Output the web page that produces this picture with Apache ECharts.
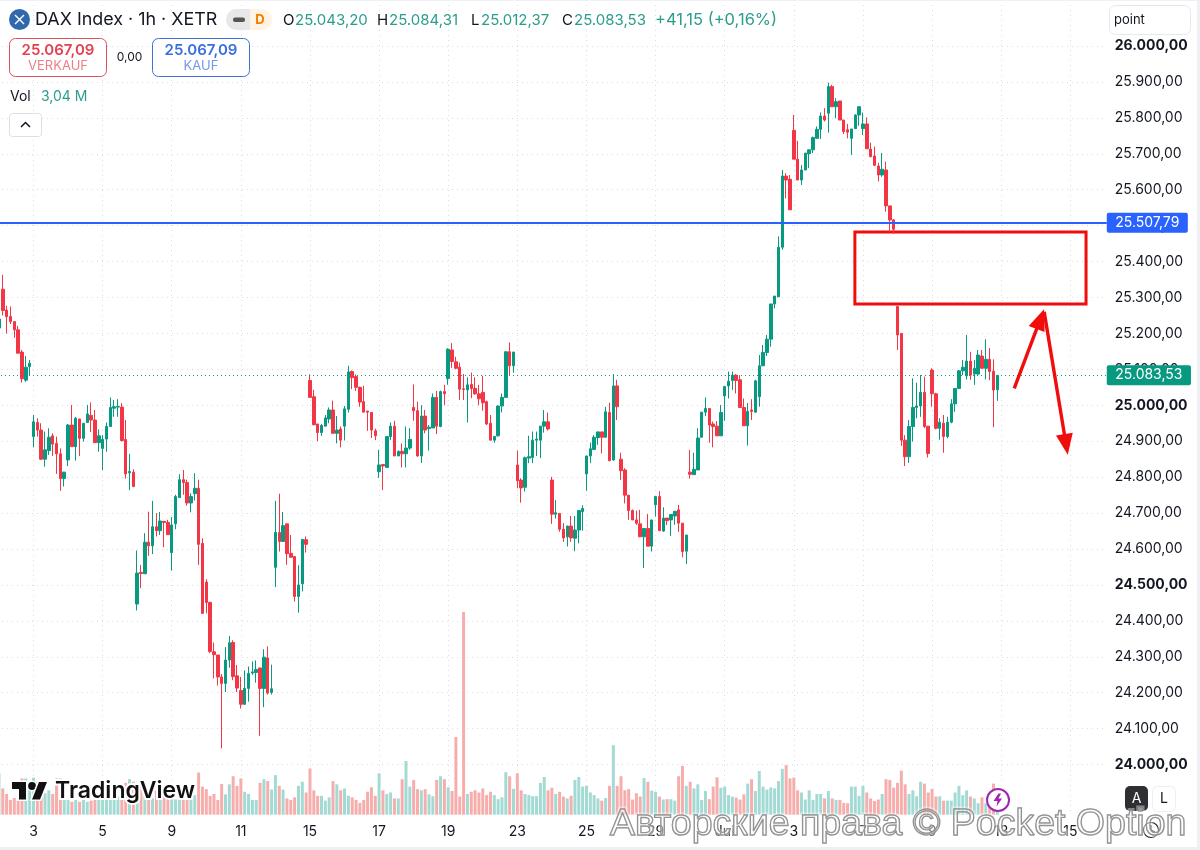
<!DOCTYPE html>
<html>
<head>
<meta charset="utf-8">
<title>DAX Index 1h</title>
<style>html,body{margin:0;padding:0;background:#fff}#chart{width:1200px;height:850px}</style>
<script src="https://cdn.jsdelivr.net/npm/echarts@6/dist/echarts.min.js"></script>
</head>
<body>
<div id="chart"></div>
<script>
// Hourly DAX candles, one row per trading day after the first partial session.
const opens = [25215,25323,25265,25247,25233,25210,25148,25070,25108,
24913,24952,24931,24850,24874,24915,24894,24865,24796,
24848,24945,24885,24962,24908,24952,24972,24959,24896,
24880,24906,24941,24992,24995,24995,24905,24812,24814,
24447,24535,24531,24619,24609,24662,24651,24677,24674,
24590,24670,24743,24793,24785,24728,24754,24769,24616,
24508,24451,24314,24305,24244,24226,24291,24340,24247,
24206,24168,24212,24255,24256,24269,24212,24297,24201,
24549,24646,24621,24670,24588,24579,24468,24503,24626,
25069,25024,24948,24924,24942,24962,24987,24922,24934,
24942,24989,25094,25080,25050,25010,24984,24980,24929,
24815,24835,24827,24913,24942,24859,24872,24865,24881,
24994,24985,24859,24970,24935,24937,25022,24941,25038,
25074,25154,25121,25106,25046,25043,25058,25047,25032,
25036,25010,24950,24903,24915,24998,25022,25149,25110,
24834,24792,24772,24853,24855,24903,24903,24942,24954,
24792,24697,24699,24655,24634,24664,24630,24653,24704,
24809,24859,24877,24910,24926,24911,24980,24848,25054,
24850,24820,24750,24707,24681,24670,24634,24657,24608,
24723,24746,24650,24686,24681,24692,24709,24672,24594,
24814,24807,24820,24911,24981,24991,24948,24942,24915,
25026,25054,25069,25084,25071,24994,24943,24987,24981,
25024,25110,25147,25184,25282,25302,25440,25638,25629,
25765,25685,25627,25655,25700,25711,25743,25768,25805,
25813,25887,25831,25847,25794,25767,25743,25770,25808,
25770,25783,25713,25694,25666,25641,25655,25555,25516,
25275,25200,24903,24857,24941,24994,24998,25036,24942,
25098,25032,24936,24950,24913,24953,25004,25047,25096,
25082,25123,25087,25087,25137,25103,25128,25095,25043.20];

const closes = [25240,25264,25247,25233,25210,25145,25074,25106,25117,
24954,24931,24850,24876,24911,24892,24865,24796,24814,
24945,24885,24964,24908,24950,24976,24959,24896,24915,
24905,24941,24994,24996,24997,24902,24809,24816,24774,
24533,24532,24619,24609,24662,24651,24678,24674,24640,
24667,24746,24793,24785,24728,24746,24769,24613,24421,
24451,24315,24306,24244,24226,24291,24339,24245,24213,
24168,24212,24254,24258,24265,24212,24299,24199,24211,
24646,24621,24665,24587,24577,24468,24500,24627,24613,
25022,24946,24924,24944,24965,24987,24922,24931,24903,
24990,25093,25077,25050,25009,24981,24981,24931,24915,
24834,24831,24913,24942,24859,24872,24865,24881,24905,
24985,24859,24970,24931,24939,25022,24942,25038,25032,
25156,25122,25103,25045,25044,25057,25047,25032,25018,
25007,24948,24903,24913,24998,25022,25149,25110,25148,
24790,24770,24854,24857,24903,24906,24942,24954,24934,
24697,24701,24655,24631,24664,24631,24653,24707,24713,
24859,24879,24911,24926,24911,24982,24846,25054,24996,
24818,24750,24707,24681,24672,24634,24657,24608,24681,
24746,24651,24686,24679,24696,24705,24672,24593,24639,
24808,24822,24909,24981,24991,24945,24941,24915,24980,
25052,25067,25084,25069,24994,24943,24983,24983,25068,
25110,25147,25184,25282,25304,25440,25638,25627,25544,
25685,25627,25655,25702,25711,25745,25768,25805,25794,
25887,25831,25845,25794,25762,25760,25769,25808,25831,
25783,25714,25692,25668,25641,25657,25555,25516,25490,
25196,24903,24857,24941,24994,24998,25036,24941,24866,
25032,24936,24953,24913,24953,25004,25047,25096,25106,
25123,25084,25103,25140,25103,25128,25094,25042.38,25083.53];

const lows = [25200,25250,25200,25226,25188,25145,25063,25065,25083,
24883,24913,24848,24829,24862,24859,24809,24762,24774,
24831,24885,24846,24859,24899,24952,24926,24896,24871,
24820,24871,24941,24968,24968,24899,24796,24764,24772,
24429,24491,24531,24581,24586,24635,24639,24605,24640,
24540,24655,24743,24751,24721,24702,24735,24556,24420,
24421,24310,24240,24220,24045,24202,24270,24235,24202,
24156,24166,24175,24250,24228,24080,24160,24195,24195,
24494,24593,24621,24556,24577,24454,24423,24482,24590,
25021,24944,24900,24915,24942,24950,24922,24894,24883,
24902,24980,25045,25040,24996,24981,24929,24909,24903,
24798,24764,24827,24903,24859,24859,24827,24827,24876,
24957,24857,24840,24922,24874,24937,24920,24939,25000,
25057,25104,25100,25015,25015,24952,25020,25029,25000,
24985,24945,24903,24896,24913,24980,25022,25083,25091,
24769,24729,24760,24839,24839,24859,24853,24924,24930,
24670,24685,24648,24620,24607,24620,24594,24616,24651,
24762,24839,24878,24890,24866,24911,24844,24846,24959,
24792,24727,24681,24681,24667,24634,24547,24608,24593,
24690,24650,24648,24667,24636,24667,24648,24577,24558,
24796,24807,24820,24911,24970,24896,24883,24915,24915,
24957,25019,25043,25033,24992,24943,24888,24959,24980,
24996,25110,25137,25163,25270,25302,25433,25576,25544,
25685,25627,25613,25655,25660,25702,25743,25741,25790,
25759,25831,25799,25794,25755,25743,25697,25770,25778,
25752,25714,25690,25666,25623,25636,25539,25483,25477,
25154,24887,24831,24840,24899,24964,24968,24936,24855,
24996,24933,24904,24868,24908,24950,24982,25047,25084,
25072,25071,25057,25084,25103,25072,25070,24939,25012.37];

const highs = [25256,25363,25277,25275,25233,25221,25154,25137,25126,
24973,24964,24950,24927,24936,24922,24913,24880,24815,
24948,25001,24968,24962,24950,25001,25008,24987,24933,
24917,24952,25022,25015,25017,25006,24959,24865,24822,
24596,24556,24644,24704,24734,24700,24703,24678,24681,
24689,24751,24808,24820,24793,24755,24811,24793,24630,
24516,24454,24340,24305,24252,24327,24358,24346,24277,
24244,24262,24273,24287,24290,24269,24321,24329,24278,
24734,24754,24703,24670,24639,24579,24555,24627,24635,
25086,25043,24948,24948,24973,24994,25013,24970,24941,
24998,25110,25097,25086,25052,25054,24984,24981,24935,
24876,24837,24913,24952,24957,24874,24894,24941,24936,
25058,25010,25000,24987,24945,25033,25040,25041,25057,
25159,25173,25135,25119,25087,25078,25091,25078,25057,
25082,25013,24973,24915,25000,25033,25149,25175,25149,
24874,24797,24857,24915,24927,24927,24942,24987,24980,
24801,24736,24699,24672,24664,24692,24692,24707,24722,
24859,24896,24917,24926,24926,24996,25007,25087,25071,
24868,24825,24750,24710,24707,24709,24657,24697,24681,
24746,24761,24716,24686,24696,24705,24723,24672,24639,
24876,24868,24936,24981,25022,24991,24955,24956,25001,
25052,25094,25094,25087,25084,25019,25006,25017,25071,
25140,25168,25196,25282,25304,25470,25655,25646,25641,
25808,25736,25669,25702,25711,25748,25776,25815,25827,
25898,25892,25855,25847,25794,25783,25769,25810,25831,
25815,25801,25731,25720,25675,25702,25678,25555,25518,
25275,25200,24917,24959,25075,25063,25084,25080,24942,
25103,25035,24964,24973,24968,25017,25047,25098,25126,
25196,25149,25126,25154,25154,25184,25159,25128,25084.31];

// Traded volume per bar, in millions.
const volumes = [5.6,3.55,2.8,2.0,2.25,1.9,4.9,4.9,4.45,
5.0,4.45,3.8,2.9,3.3,2.8,4.9,4.9,2.45,
2.0,1.75,2.0,1.75,2.0,1.75,1.9,2.0,2.0,
2.0,2.2,2.2,2.45,2.45,2.9,4.3,4.8,4.45,
4.2,3.8,3.1,2.65,2.2,3.3,2.2,2.45,2.65,
2.2,2.05,2.2,2.0,2.0,2.45,2.65,5.7,3.8,
3.45,2.55,2.8,2.0,4.15,2.75,4.1,5.2,3.9,
4.9,3.1,2.8,2.0,2.0,4.3,4.8,4.55,3.4,
5.35,3.9,3.4,2.2,2.0,2.35,3.9,4.45,3.0,
6.25,3.3,2.55,2.55,1.9,2.35,4.55,4.1,3.3,
3.55,2.55,2.35,2.0,1.6,2.0,3.1,3.7,2.55,
5.6,3.3,2.8,3.0,2.2,2.2,4.8,7.25,3.8,
4.7,3.45,3.3,3.45,2.75,2.5,4.7,5.2,4.8,
3.7,3.2,10.5,2.45,27.4,2.8,3.1,3.3,3.0,
3.55,2.65,3.1,2.65,2.1,2.35,5.75,5.2,3.5,
5.6,3.3,2.8,2.65,2.5,2.5,4.3,5.1,3.3,
3.65,2.8,3.1,2.45,2.2,2.55,4.7,5.1,3.8,
3.9,3.0,2.65,2.2,1.9,2.25,3.9,9.4,3.9,
5.2,3.3,3.45,2.05,2.9,2.45,4.95,4.45,3.25,
3.1,2.45,2.05,2.1,2.1,1.9,5.2,6.6,3.9,
4.45,3.55,4.1,2.0,3.2,2.1,3.8,5.05,3.65,
3.8,2.65,2.45,2.3,2.05,2.75,4.2,4.8,3.2,
5.9,3.8,3.4,3.7,3.55,4.55,6.2,6.7,4.9,
5.0,3.3,3.0,2.05,3.3,2.0,2.8,2.8,2.2,
3.2,2.2,2.0,2.0,1.6,1.55,3.8,3.8,2.55,
3.9,3.0,2.2,1.85,2.05,2.8,4.8,4.7,3.65,
4.3,5.95,4.1,2.8,3.3,2.5,4.45,4.2,3.0,
3.5,2.45,2.5,1.9,1.9,1.9,3.0,3.9,2.65,
3.3,2.45,2.2,1.55,2.35,1.55,1.75,4.2,3.04];

// Date labels, one every second session, starting at bar 9.
const dateLabels = ['3','5','9','11','15','17','19','23','25','29','Jul','3','7','9','13','15'];
const firstLabelBar = 9;
const barsPerLabel = 18;
const slotCount = 289;

// Price scale
const priceMin = 24000;
const priceMax = 26000;
const priceStep = 100;
const boldPrices = [26000, 25000, 24500, 24000];
const alertPrice = 25507.79;
const lastPrice = 25083.53;

// Hand-drawn annotations, in bar/price units.
const zoneBox = [[222.9, 25482], [283.1, 25282]];
const arrowUp = [[264.4, 25047], [271.2, 25240]];
const arrowDown = [[272.2, 25260], [277.9, 24891]];

const RED = '#f23645', TEAL = '#089981', BLUE = '#2962ff', INK = '#131722';
const VOL_RED = '#f6aeac', VOL_TEAL = '#a3dad4';
const GRID_DOT = '#d9dce3';
const HEAD_TEAL = '#2a9d8c';
const FONT = 'Inter, "Noto Sans", sans-serif';

const categories = Array.from({length: slotCount}, (_, i) => {
  const k = (i - firstLabelBar) / barsPerLabel;
  return Number.isInteger(k) && dateLabels[k] !== undefined ? dateLabels[k] : '';
});
const candles = opens.map((o, i) => [o, closes[i], lows[i], highs[i]]);
const volumeBars = volumes.map((v, i) => ({
  value: v,
  itemStyle: {color: closes[i] >= opens[i] ? VOL_TEAL : VOL_RED}
}));

function priceText(v) {
  const [whole, frac] = v.toFixed(2).split('.');
  return whole.replace(/\B(?=(\d{3})+$)/g, '.') + ',' + frac;
}

function label(x, y, text, size, fill, extra) {
  return {type: 'text', z: 50, x, y, style: Object.assign({
    text, fill, font: (extra && extra.weight ? extra.weight + ' ' : '') + size + 'px ' + FONT,
    textVerticalAlign: 'middle', textAlign: (extra && extra.align) || 'left'
  })};
}
function box(x, y, w, h, r, stroke, fill) {
  return {type: 'rect', z: 49, shape: {x, y, width: w, height: h, r},
    style: {fill: fill || '#fff', stroke: stroke || 'none', lineWidth: 1}};
}
const haloed = {fill: '#111', stroke: '#fff', lineWidth: 3, strokeFirst: true};

const overlay = [
  // frame of the widget
  {type: 'rect', z: 48, shape: {x: 0, y: 847, width: 1200, height: 3}, style: {fill: '#eef0f3'}},
  {type: 'rect', z: 48, shape: {x: 1197, y: 0, width: 3, height: 850}, style: {fill: '#eef0f3'}},
  {type: 'rect', z: 48, shape: {x: 0, y: 0, width: 1200, height: 1}, style: {fill: '#eef0f3'}},

  // symbol badge and title
  {type: 'circle', z: 49, shape: {cx: 19.5, cy: 19.5, r: 10.5}, style: {fill: '#2f68ad'}},
  {type: 'line', z: 50, shape: {x1: 15, y1: 15, x2: 24, y2: 24}, style: {stroke: '#fff', lineWidth: 1.4}},
  {type: 'line', z: 50, shape: {x1: 24, y1: 15, x2: 15, y2: 24}, style: {stroke: '#fff', lineWidth: 1.4}},
  label(35, 20, 'DAX Index · 1h · XETR', 17.9, INK),

  // session pill
  {type: 'rect', z: 49, shape: {x: 226, y: 9, width: 24, height: 21, r: [10, 0, 0, 10]}, style: {fill: '#e8e8ea'}},
  {type: 'rect', z: 49, shape: {x: 250, y: 9, width: 22, height: 21, r: [0, 10, 10, 0]}, style: {fill: '#fff3e4'}},
  {type: 'rect', z: 50, shape: {x: 233, y: 17.5, width: 12, height: 4.5, r: 2}, style: {fill: '#555'}},
  label(260, 20, 'D', 13, '#f57c00', {weight: 700, align: 'center'}),

  // OHLC readout
  label(283, 20, 'O', 15, INK), label(295, 20, '25.043,20', 15, HEAD_TEAL),
  label(377, 20, 'H', 15, INK), label(389, 20, '25.084,31', 15, HEAD_TEAL),
  label(471, 20, 'L', 15, INK), label(481, 20, '25.012,37', 15, HEAD_TEAL),
  label(562, 20, 'C', 15, INK), label(574, 20, '25.083,53', 15, HEAD_TEAL),
  label(655, 20, '+41,15 (+0,16%)', 16.5, HEAD_TEAL),

  // sell / buy
  box(9.5, 38.5, 97, 38, 6, '#e0505c'),
  label(58, 50, '25.067,09', 15, '#e5404f', {weight: 600, align: 'center'}),
  label(58, 66, 'VERKAUF', 13, '#ec7f88', {align: 'center'}),
  label(129.5, 57, '0,00', 12, INK, {align: 'center'}),
  box(152.5, 38.5, 97, 38, 6, '#3f6fd8'),
  label(201, 50, '25.067,09', 15, '#3a6ee0', {weight: 600, align: 'center'}),
  label(201, 66, 'KAUF', 13, '#7497e8', {align: 'center'}),

  // volume legend and collapse button
  label(10, 97, 'Vol', 14, INK),
  label(41, 97, '3,04 M', 14, HEAD_TEAL),
  box(9.5, 113.5, 32, 23, 3, '#dcdfe5'),
  {type: 'polyline', z: 50, shape: {points: [[21, 127], [25.5, 122.5], [30, 127]]},
    style: {stroke: INK, lineWidth: 1.5, fill: 'none'}},

  // unit selector
  box(1109.5, 5.5, 81, 29, 6, '#e6e8ec'),
  label(1114, 20.5, 'point', 13, INK),

  // scale mode buttons
  box(1125, 786, 23, 25, 5, null, '#2f2f33'),
  label(1136.5, 798.5, 'A', 14, '#fff', {align: 'center'}),
  box(1152.5, 786.5, 23, 25, 5, '#eceef1'),
  label(1164, 798.5, 'L', 14, INK, {align: 'center'}),

  // brand mark
  {type: 'polygon', z: 50, shape: {points: [[12, 782], [26, 782], [26, 799.5], [19, 799.5], [19, 789], [12, 789]]}, style: haloed},
  {type: 'circle', z: 50, shape: {cx: 32, cy: 786, r: 3.9}, style: haloed},
  {type: 'polygon', z: 50, shape: {points: [[39, 782], [47, 782], [40, 799.5], [32, 799.5]]}, style: haloed},
  {type: 'text', z: 50, x: 55, y: 791, style: {text: 'TradingView', fill: '#111', stroke: '#fff', lineWidth: 4,
    strokeFirst: true, font: '600 23px ' + FONT, textVerticalAlign: 'middle'}},

  // realtime marker
  {type: 'circle', z: 50, shape: {cx: 998, cy: 800, r: 11}, style: {fill: '#fff', stroke: '#9c27b0', lineWidth: 2}},
  {type: 'polygon', z: 51, shape: {points: [[998.5, 793.5], [993.5, 801], [997.5, 801], [996.5, 806.5], [1002, 798.5], [998.5, 798.5], [1001, 793.5]]},
    style: {fill: '#9c27b0'}},

  // time settings icon
  {type: 'circle', z: 50, shape: {cx: 1151, cy: 830, r: 7.5}, style: {fill: 'none', stroke: '#222', lineWidth: 1.2}},
  {type: 'polyline', z: 50, shape: {points: [[1151, 825], [1151, 830], [1155, 832]]}, style: {fill: 'none', stroke: '#222', lineWidth: 1.2}},

  // copyright overlay
  {type: 'text', z: 60, x: 610, y: 825, style: {text: 'Авторские права © Pocket Option', fill: 'rgba(255,255,255,0)',
    stroke: 'rgba(255,255,255,0.4)', lineWidth: 5, font: '37.5px "Liberation Sans", sans-serif', textVerticalAlign: 'middle'}},
  {type: 'text', z: 61, x: 610, y: 825, style: {text: 'Авторские права © Pocket Option', fill: 'rgba(255,255,255,0.15)',
    stroke: '#8c8c8c', lineWidth: 1.4, font: '37.5px "Liberation Sans", sans-serif', textVerticalAlign: 'middle'}}
];

const badgeLabel = color => ({
  position: 'end', distance: 0, formatter: p => priceText(p.value), color: '#fff', backgroundColor: color,
  padding: [3, 8.5], lineHeight: 14, fontSize: 14, fontFamily: FONT, borderRadius: 2
});

const chart = echarts.init(document.getElementById('chart'), null, {renderer: 'canvas'});
chart.setOption({
  animation: false,
  backgroundColor: '#ffffff',
  grid: [
    {left: -2.98, top: 46, width: 1109.76, height: 718.6, containLabel: false, outerBoundsMode: 'none'},
    {left: -2.98, top: 0, width: 1109.76, height: 814.7, containLabel: false, outerBoundsMode: 'none'}
  ],
  xAxis: [
    {type: 'category', gridIndex: 0, data: categories, show: false},
    {type: 'category', gridIndex: 1, data: categories, position: 'bottom',
      axisLine: {show: false}, axisTick: {show: false},
      axisLabel: {interval: (i, v) => v !== '', color: INK, fontSize: 14, fontFamily: FONT, margin: 10, hideOverlap: false},
      splitLine: {show: true, alignWithLabel: true, interval: (i, v) => v !== '',
        lineStyle: {color: GRID_DOT, type: [1, 4], width: 1}}},
    {type: 'value', gridIndex: 0, min: -0.5, max: slotCount - 0.5, show: false}
  ],
  yAxis: [
    {type: 'value', gridIndex: 0, position: 'right', min: priceMin, max: priceMax, interval: priceStep,
      axisLine: {show: false}, axisTick: {show: false},
      axisLabel: {margin: 8, color: INK, fontSize: 14, fontFamily: FONT,
        formatter: v => boldPrices.includes(v) ? '{b|' + priceText(v) + '}' : priceText(v),
        rich: {b: {fontWeight: 700, fontSize: 14, color: INK, fontFamily: FONT}}},
      splitLine: {show: true, lineStyle: {color: GRID_DOT, type: [1, 4], width: 1}}},
    {type: 'value', gridIndex: 1, min: 0, max: 110.1, show: false}
  ],
  series: [
    {name: 'Vol', type: 'bar', xAxisIndex: 1, yAxisIndex: 1, data: volumeBars, barWidth: 3, z: 1, silent: true},
    {name: 'DAX', type: 'candlestick', xAxisIndex: 0, yAxisIndex: 0, data: candles, barWidth: 3, z: 3,
      itemStyle: {color: TEAL, color0: RED, borderColor: TEAL, borderColor0: RED, borderWidth: 1},
      markLine: {silent: true, symbol: 'none', animation: false, precision: 2, data: [
        {yAxis: alertPrice, lineStyle: {color: BLUE, type: 'solid', width: 2}, label: badgeLabel(BLUE)},
        {yAxis: lastPrice, lineStyle: {color: TEAL, type: [1, 3], width: 1}, label: badgeLabel(TEAL)}
      ]}},
    {name: 'Zone', type: 'line', xAxisIndex: 2, yAxisIndex: 0, data: [], z: 5, silent: true,
      markArea: {silent: true, animation: false, itemStyle: {color: 'rgba(0,0,0,0)', borderColor: '#f20d0d', borderWidth: 3},
        data: [[{coord: zoneBox[0]}, {coord: zoneBox[1]}]]}},
    {name: 'Pfeile', type: 'line', xAxisIndex: 2, yAxisIndex: 0, data: [], z: 6, silent: true,
      markLine: {silent: true, animation: false, symbol: ['none', 'triangle'], symbolSize: [17, 21],
        lineStyle: {color: '#f20d0d', type: 'solid', width: 3.4}, label: {show: false},
        data: [
          [{coord: arrowUp[0]}, {coord: arrowUp[1]}],
          [{coord: arrowDown[0]}, {coord: arrowDown[1]}]
        ]}}
  ],
  graphic: {elements: overlay}
});
</script>
</body>
</html>
